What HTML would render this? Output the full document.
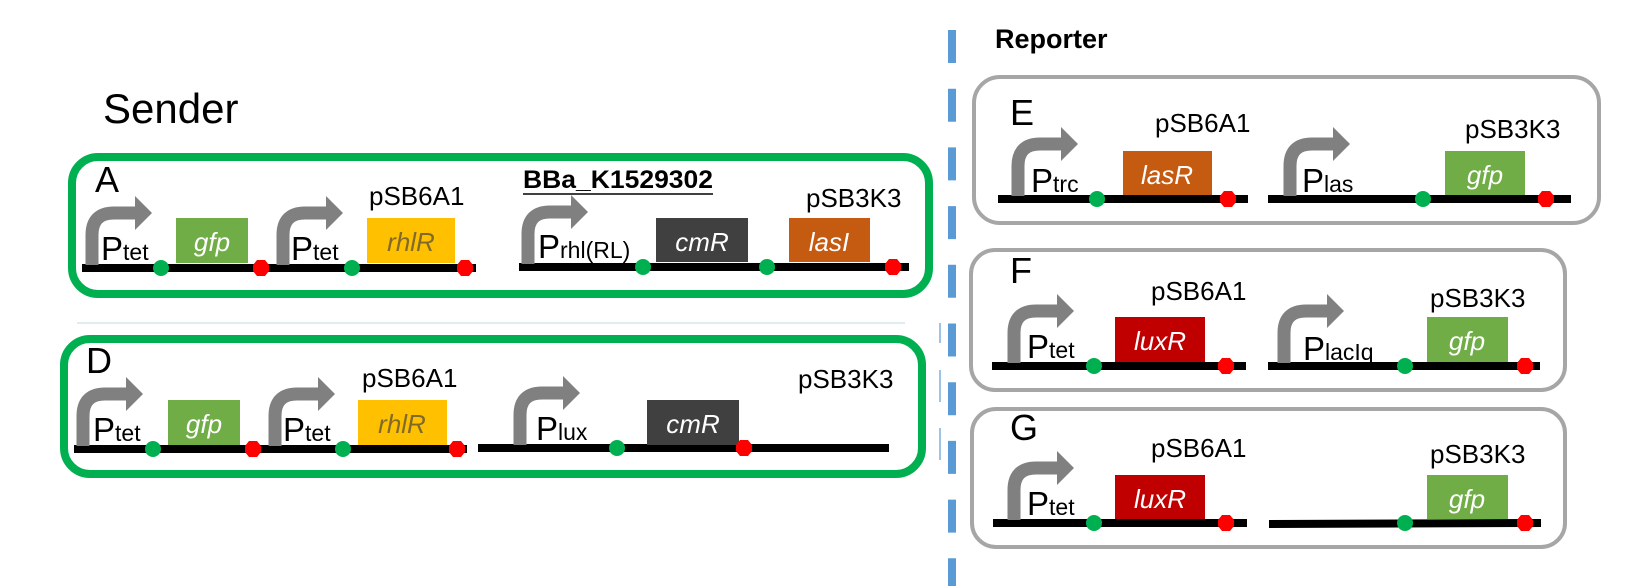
<!DOCTYPE html>
<html><head><meta charset="utf-8"><style>
html,body{margin:0;padding:0;background:#fff;}
svg{display:block;font-family:"Liberation Sans",Arial,sans-serif;}
.pl{font-size:26px;fill:#000;}
.P{font-size:33px;fill:#000;}
.s{font-size:23px;}
.g{font-size:26px;font-style:italic;fill:#fff;text-anchor:middle;}
.lt{font-size:36px;fill:#000;}
</style></head><body>
<svg width="1633" height="586" viewBox="0 0 1633 586" xmlns="http://www.w3.org/2000/svg">
<defs>
<g id="pr">
<path d="M0,-3 V-33 Q0,-55 22,-55 H45" stroke="#808080" stroke-width="13" fill="none"/>
<polygon points="43,-72 60,-55 43,-38" fill="#808080"/>
</g>
<circle id="gd" r="8" fill="#00b050"/>
<polygon id="rd" points="-4,-8 4,-8 8,-3 8,3 4,8 -4,8 -8,3 -8,-3" fill="#ff0000"/>
</defs>

<!-- dashed divider -->
<line x1="952" y1="30" x2="952" y2="586" stroke="#5b9bd5" stroke-width="8" stroke-dasharray="33 25.7"/>
<line x1="940" y1="323" x2="940" y2="343" stroke="#9dc3e6" stroke-width="2"/>
<line x1="940" y1="370" x2="940" y2="402" stroke="#9dc3e6" stroke-width="2"/>
<line x1="940" y1="428" x2="940" y2="460" stroke="#9dc3e6" stroke-width="2"/>

<!-- Sender -->
<text x="103" y="123" style="font-size:42px">Sender</text>
<line x1="77" y1="323" x2="905" y2="323" stroke="#d6e6ea" stroke-width="1.5"/>

<!-- Box A -->
<rect x="72" y="157" width="857" height="137" rx="26" fill="none" stroke="#00b050" stroke-width="8"/>
<text x="95" y="192" class="lt">A</text>
<line x1="82" y1="268" x2="476" y2="268" stroke="#000" stroke-width="8"/>
<line x1="519" y1="267" x2="909" y2="267" stroke="#000" stroke-width="8"/>
<use href="#pr" x="92" y="268"/>
<text x="101" y="260" class="P">P<tspan class="s">tet</tspan></text>
<rect x="176" y="218" width="72" height="45" fill="#70ad47"/>
<text x="212" y="251" class="g">gfp</text>
<use href="#gd" x="161" y="268"/>
<use href="#rd" x="261" y="268"/>
<use href="#pr" x="283" y="268"/>
<text x="291" y="260" class="P">P<tspan class="s">tet</tspan></text>
<rect x="367" y="218" width="88" height="45" fill="#ffc000"/>
<text x="411" y="251" class="g" style="fill:#7f6a2a">rhlR</text>
<use href="#gd" x="352" y="268"/>
<use href="#rd" x="465" y="268"/>
<text x="369" y="205" class="pl">pSB6A1</text>
<text x="523" y="188" textLength="190" lengthAdjust="spacingAndGlyphs" style="font-size:25px;font-weight:bold">BBa_K1529302</text>
<line x1="523" y1="194" x2="713" y2="194" stroke="#000" stroke-width="1.5"/>
<use href="#pr" x="528" y="267"/>
<text x="538" y="258" class="P">P<tspan class="s">rhl(RL)</tspan></text>
<rect x="656" y="218" width="92" height="44" fill="#404040"/>
<text x="702" y="251" class="g">cmR</text>
<use href="#gd" x="643" y="267"/>
<use href="#gd" x="767" y="267"/>
<rect x="789" y="218" width="81" height="44" fill="#c55a11"/>
<text x="829" y="251" class="g">lasI</text>
<use href="#rd" x="893" y="267"/>
<text x="806" y="207" class="pl">pSB3K3</text>

<!-- Box D -->
<rect x="64" y="339" width="858" height="135" rx="26" fill="none" stroke="#00b050" stroke-width="8"/>
<text x="86" y="373" class="lt">D</text>
<line x1="74" y1="449" x2="467" y2="449" stroke="#000" stroke-width="8"/>
<line x1="478" y1="448" x2="889" y2="448" stroke="#000" stroke-width="8"/>
<use href="#pr" x="83" y="449"/>
<text x="93" y="441" class="P">P<tspan class="s">tet</tspan></text>
<rect x="168" y="400" width="72" height="45" fill="#70ad47"/>
<text x="204" y="433" class="g">gfp</text>
<use href="#gd" x="153" y="449"/>
<use href="#rd" x="253" y="449"/>
<use href="#pr" x="275" y="449"/>
<text x="283" y="441" class="P">P<tspan class="s">tet</tspan></text>
<rect x="358" y="400" width="89" height="45" fill="#ffc000"/>
<text x="402" y="433" class="g" style="fill:#7f6a2a">rhlR</text>
<use href="#gd" x="343" y="449"/>
<use href="#rd" x="457" y="449"/>
<text x="362" y="387" class="pl">pSB6A1</text>
<use href="#pr" x="520" y="448"/>
<text x="536" y="440" class="P">P<tspan class="s">lux</tspan></text>
<rect x="647" y="400" width="92" height="45" fill="#404040"/>
<text x="693" y="433" class="g">cmR</text>
<use href="#gd" x="617" y="448"/>
<use href="#rd" x="744" y="448"/>
<text x="798" y="388" class="pl">pSB3K3</text>

<!-- Reporter -->
<text x="995" y="48" style="font-size:27px;font-weight:bold">Reporter</text>

<!-- E -->
<rect x="974" y="77" width="625" height="146" rx="26" fill="none" stroke="#a6a6a6" stroke-width="4"/>
<text x="1010" y="125" class="lt">E</text>
<line x1="998" y1="199" x2="1248" y2="199" stroke="#000" stroke-width="8"/>
<line x1="1268" y1="199" x2="1571" y2="199" stroke="#000" stroke-width="8"/>
<use href="#pr" x="1018" y="199"/>
<text x="1031" y="192" class="P">P<tspan class="s">trc</tspan></text>
<rect x="1123" y="151" width="89" height="44" fill="#c55a11"/>
<text x="1167" y="184" class="g">lasR</text>
<use href="#gd" x="1097" y="199"/>
<use href="#rd" x="1228" y="199"/>
<text x="1155" y="132" class="pl">pSB6A1</text>
<use href="#pr" x="1290" y="199"/>
<text x="1302" y="192" class="P">P<tspan class="s">las</tspan></text>
<rect x="1445" y="151" width="80" height="44" fill="#70ad47"/>
<text x="1485" y="184" class="g">gfp</text>
<use href="#gd" x="1423" y="199"/>
<use href="#rd" x="1546" y="199"/>
<text x="1465" y="138" class="pl">pSB3K3</text>

<!-- F -->
<rect x="971" y="250" width="594" height="140" rx="24" fill="none" stroke="#a6a6a6" stroke-width="4"/>
<text x="1010" y="283" class="lt">F</text>
<line x1="992" y1="366" x2="1246" y2="366" stroke="#000" stroke-width="8"/>
<line x1="1268" y1="366" x2="1540" y2="366" stroke="#000" stroke-width="8"/>
<use href="#pr" x="1014" y="366"/>
<text x="1027" y="358" class="P">P<tspan class="s">tet</tspan></text>
<rect x="1115" y="317" width="90" height="45" fill="#c00000"/>
<text x="1160" y="350" class="g">luxR</text>
<use href="#gd" x="1094" y="366"/>
<use href="#rd" x="1226" y="366"/>
<text x="1151" y="300" class="pl">pSB6A1</text>
<use href="#pr" x="1284" y="366"/>
<text x="1303" y="360" class="P">P<tspan class="s">lacIq</tspan></text>
<rect x="1427" y="317" width="81" height="45" fill="#70ad47"/>
<text x="1467" y="350" class="g">gfp</text>
<use href="#gd" x="1405" y="366"/>
<use href="#rd" x="1525" y="366"/>
<text x="1430" y="307" class="pl">pSB3K3</text>

<!-- G -->
<rect x="972" y="409" width="593" height="138" rx="24" fill="none" stroke="#a6a6a6" stroke-width="4"/>
<text x="1010" y="440" class="lt">G</text>
<line x1="993" y1="523" x2="1247" y2="523" stroke="#000" stroke-width="8"/>
<line x1="1269" y1="524" x2="1541" y2="523" stroke="#000" stroke-width="8"/>
<use href="#pr" x="1014" y="523"/>
<text x="1027" y="515" class="P">P<tspan class="s">tet</tspan></text>
<rect x="1115" y="475" width="90" height="44" fill="#c00000"/>
<text x="1160" y="508" class="g">luxR</text>
<use href="#gd" x="1094" y="523"/>
<use href="#rd" x="1226" y="523"/>
<text x="1151" y="457" class="pl">pSB6A1</text>
<rect x="1427" y="475" width="81" height="44" fill="#70ad47"/>
<text x="1467" y="508" class="g">gfp</text>
<use href="#gd" x="1405" y="523"/>
<use href="#rd" x="1525" y="523"/>
<text x="1430" y="463" class="pl">pSB3K3</text>
</svg>
</body></html>
